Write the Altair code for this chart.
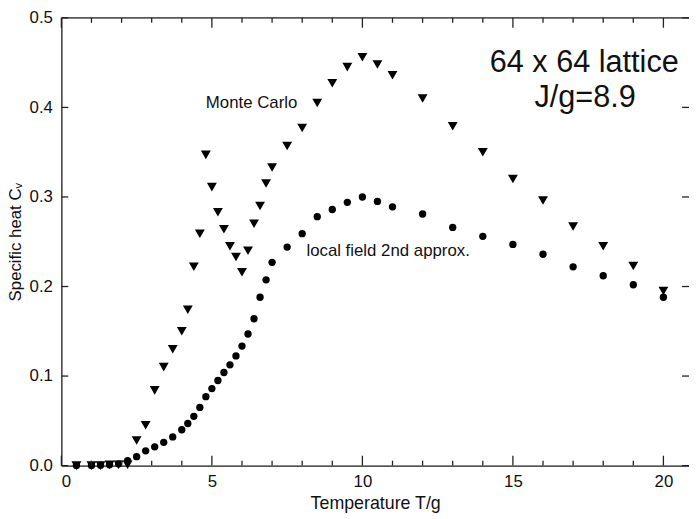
import altair as alt
import pandas as pd

# ---- data ----
mc_T = [0.5, 1.0, 1.3, 1.6, 1.9, 2.2, 2.5, 2.8, 3.1, 3.4, 3.7, 4.0, 4.2, 4.4, 4.6,
        4.8, 5.0, 5.2, 5.4, 5.6, 5.8, 6.0, 6.2, 6.4, 6.6, 6.8, 7.0, 7.5, 8.0, 8.5,
        9.0, 9.5, 10.0, 10.5, 11.0, 12, 13, 14, 15, 16, 17, 18, 19, 20]
mc_C = [0.0, 0.0, 0.0, 0.001, 0.001, 0.001, 0.028, 0.045, 0.084, 0.110, 0.130,
        0.150, 0.174, 0.222, 0.259, 0.347, 0.311, 0.283, 0.264, 0.245, 0.233,
        0.216, 0.240, 0.270, 0.290, 0.315, 0.333, 0.357, 0.377, 0.405, 0.427,
        0.445, 0.456, 0.448, 0.436, 0.410, 0.379, 0.350, 0.320, 0.296, 0.267,
        0.245, 0.223, 0.195]

lf_T = [0.5, 1.0, 1.3, 1.6, 1.9, 2.2, 2.5, 2.8, 3.1, 3.4, 3.7, 4.0, 4.2, 4.4, 4.6,
        4.8, 5.0, 5.2, 5.4, 5.6, 5.8, 6.0, 6.2, 6.4, 6.6, 6.8, 7.0, 7.5, 8.0, 8.5,
        9.0, 9.5, 10.0, 10.5, 11.0, 12, 13, 14, 15, 16, 17, 18, 19, 20]
lf_C = [0.0, 0.0, 0.0005, 0.001, 0.002, 0.0055, 0.010, 0.0165, 0.021, 0.026,
        0.032, 0.040, 0.047, 0.055, 0.065, 0.077, 0.086, 0.095, 0.104, 0.1125,
        0.1225, 0.1335, 0.147, 0.164, 0.188, 0.2075, 0.227, 0.244, 0.259, 0.278,
        0.286, 0.294, 0.300, 0.295, 0.289, 0.281, 0.266, 0.256, 0.247, 0.236,
        0.222, 0.212, 0.202, 0.188]

x_major = [0, 5, 10, 15, 20]
x_minor = [1, 2, 3, 4, 6, 7, 8, 9, 11, 12, 13, 14, 16, 17, 18, 19]
y_major = [0.0, 0.1, 0.2, 0.3, 0.4, 0.5]

labels_text = ["Monte Carlo", "local field 2nd approx."]
labels_T = [4.8, 8.14]
labels_C = [0.405, 0.2395]

big_text = ["64 x 64 lattice", "J/g=8.9"]
big_T = [17.37, 17.4]
big_C = [0.439, 0.401]

# ---- layout ----
W, H = 635, 453
FONT = "Liberation Sans"

xs = alt.Scale(domain=[0, 20.85], nice=False, zero=False)
ys = alt.Scale(domain=[0, 0.5], nice=False)

x_axis = alt.Axis(values=x_major, ticks=False, grid=False, domain=True,
                  domainColor="#222", domainWidth=1.3, labelFontSize=17,
                  labelFont=FONT, labelColor="#111", labelPadding=8,
                  title="Temperature T/g", titleFont=FONT, titleFontSize=18,
                  titleFontWeight="normal", titleColor="#111", titlePadding=5)
y_axis = alt.Axis(values=y_major, format=".1f", ticks=False, grid=False,
                  domain=True, domainColor="#222", domainWidth=1.3,
                  labelFontSize=17, labelFont=FONT, labelColor="#111",
                  labelPadding=9, title="Specific heat Cᵥ", titleFont=FONT,
                  titleFontSize=17, titleFontWeight="normal", titleColor="#111",
                  titlePadding=5)


def X(field):
    return alt.X(field, scale=xs, axis=x_axis)


def Y(field):
    return alt.Y(field, scale=ys, axis=y_axis)


mc = pd.DataFrame({"T": mc_T, "C": mc_C})
lf = pd.DataFrame({"T": lf_T, "C": lf_C})

lf_layer = alt.Chart(lf).mark_point(shape="circle", filled=True, color="black",
                                    size=55, opacity=1).encode(x=X("T:Q"), y=Y("C:Q"))
mc_layer = alt.Chart(mc).mark_point(shape="triangle-down", filled=True,
                                    color="black", size=100, opacity=1).encode(
    x=X("T:Q"), y=Y("C:Q"))

xmaj_df = pd.DataFrame({"T": x_major})
xmin_df = pd.DataFrame({"T": x_minor})
ymaj_df = pd.DataFrame({"C": y_major})
RULE = dict(color="#222", strokeWidth=1.3)


def xticks(df, length):
    bottom = alt.Chart(df).mark_rule(**RULE).encode(
        x=X("T:Q"), y=alt.value(H), y2=alt.value(H - length))
    top = alt.Chart(df).mark_rule(**RULE).encode(
        x=X("T:Q"), y=alt.value(0), y2=alt.value(length))
    return [bottom, top]


yt_left = alt.Chart(ymaj_df).mark_rule(**RULE).encode(
    y=Y("C:Q"), x=alt.value(0), x2=alt.value(7))
yt_right = alt.Chart(ymaj_df).mark_rule(**RULE).encode(
    y=Y("C:Q"), x=alt.value(W - 7), x2=alt.value(W))

top_frame = alt.Chart(pd.DataFrame({"a": [0]})).mark_rule(**RULE).encode(
    x=alt.value(0), x2=alt.value(W), y=alt.value(0))

lab_df = pd.DataFrame({"txt": labels_text, "T": labels_T, "C": labels_C})
lab_layer = alt.Chart(lab_df).mark_text(align="left", baseline="middle",
                                        font=FONT, fontSize=17, color="#111").encode(
    x=X("T:Q"), y=Y("C:Q"), text="txt:N")

big_df = pd.DataFrame({"txt": big_text, "T": big_T, "C": big_C})
big_layer = alt.Chart(big_df).mark_text(align="center", baseline="alphabetic",
                                        font=FONT, fontSize=31, color="#111").encode(
    x=X("T:Q"), y=Y("C:Q"), text="txt:N")

chart = alt.layer(
    lf_layer, mc_layer, *xticks(xmaj_df, 10), *xticks(xmin_df, 5), yt_left, yt_right,
    top_frame, lab_layer, big_layer
).properties(
    width=W, height=H,
    autosize=alt.AutoSizeParams(type="none"),
    padding={"left": 54, "top": 7, "right": 0, "bottom": 48},
).configure_view(stroke=None).configure(background="white")

chart.save("out.html", embed_options={"renderer": "svg", "actions": False})
